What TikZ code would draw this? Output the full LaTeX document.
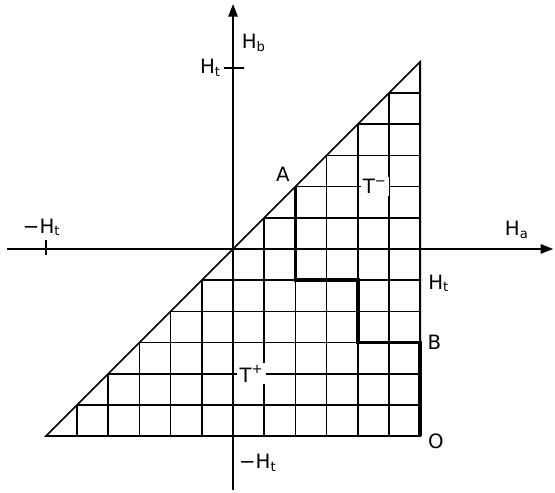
\documentclass[tikz,border=0pt]{standalone}
\usepackage{fontspec}
\setmainfont{DejaVu Sans}
\usetikzlibrary{arrows.meta}

\begin{document}
\begin{tikzpicture}[x=0.5cm, y=0.5cm, line width=0.7pt,
        axis/.style={-{Triangle[length=2mm, width=1.5mm]}},
        heavy/.style={line width=1.6pt},
        lbl/.style={font=\fontsize{9}{10.8}\selectfont, inner sep=1pt},
        cut/.style={lbl, fill=white}]
            \useasboundingbox (-7.47,-7.82) rectangle (10.32,7.98);
            \coordinate (p) at (-6,-6);
            \coordinate (q) at (6,6);
            \coordinate (o) at (6,-6);
            \coordinate (a) at (2,2);
            \coordinate (u1) at (4,-1);
            \coordinate (b) at (6,-3);
            \coordinate (west) at (-7.24,0);
            \coordinate (east) at (10.26,0);
            \coordinate (south) at (0,-7.72);
            \coordinate (north) at (0,7.85);
            \begin{scope}
                \clip (p) -- (q) -- (o) -- cycle;
                \draw[step=0.5cm] (p) grid (q);
            \end{scope}
            \draw (p) -- (q) -- (o) -- cycle;
            \draw[axis] (west) -- (east);
            \draw[axis] (south) -- (north);
            \draw (-6,-0.2) -- (-6,0.3);
            \draw (-0.3,5.8) -- (0.35,5.8);
            \draw[heavy] (a) |- (u1) |- (b) -- (o);
            \node[lbl] (Hb) at (0.67,6.6) {H\textsubscript{b}};
            \node[lbl] (Httop) at (-0.72,5.8) {H\textsubscript{t}};
            \node[lbl] (Htleft) at (-6.13,0.69) {−H\textsubscript{t}};
            \node[lbl] (Ha) at (9.1,0.61) {H\textsubscript{a}};
            \node[lbl] (Htright) at (6.6,-1.1) {H\textsubscript{t}};
            \node[lbl] (Htbottom) at (0.8,-6.86) {−H\textsubscript{t}};
            \node[lbl] (A) at (1.6,2.4) {A};
            \node[lbl] (B) at (6.45,-3.0) {B};
            \node[lbl] (O) at (6.5,-6.15) {O};
            \node[cut] (Tm) at (4.55,2.0) {T\textsuperscript{−}};
            \node[cut] (Tp) at (0.6,-4.0) {T\textsuperscript{+}};
        \end{tikzpicture}
\end{document}
